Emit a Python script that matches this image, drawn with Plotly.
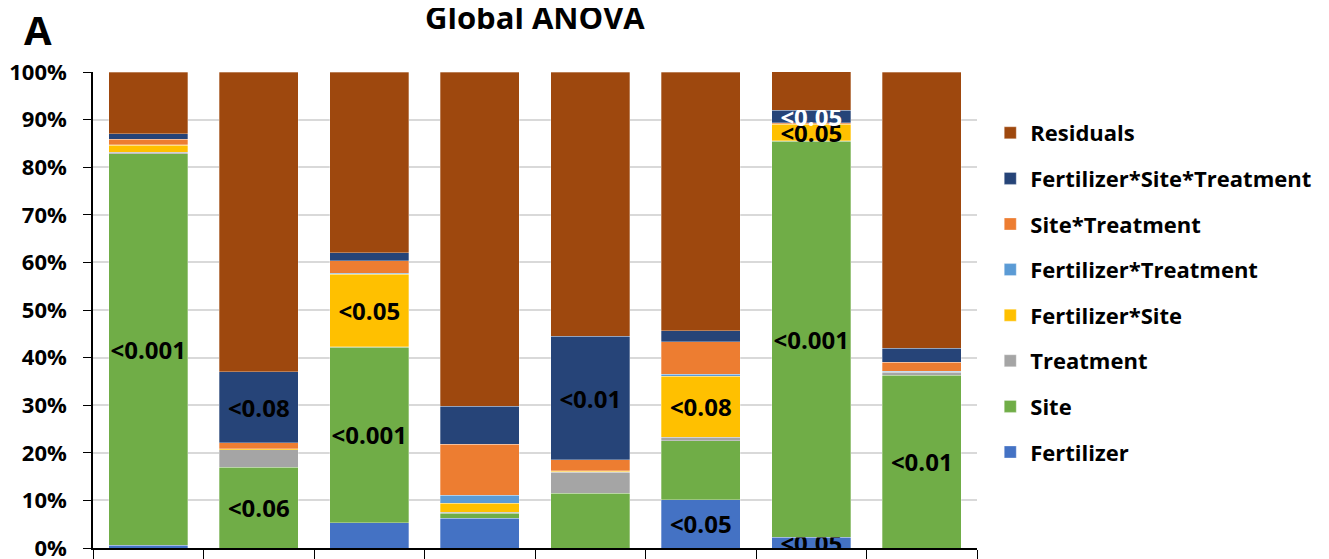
import plotly.graph_objects as go

# categories (x labels are not visible in the figure)
groups = ["G1", "G2", "G3", "G4", "G5", "G6", "G7", "G8"]

# share of variance (%) per term
fertilizer = [0.6, 0.0, 5.3, 6.3, 0.0, 10.1, 2.3, 0.0]
site = [82.2, 17.0, 36.9, 1.0, 11.5, 12.4, 83.2, 36.3]
treatment = [0.3, 3.6, 0.1, 0.2, 4.4, 0.8, 0.1, 0.6]
fert_site = [1.5, 0.2, 15.2, 1.9, 0.2, 12.8, 3.4, 0.1]
fert_treat = [0.1, 0.1, 0.2, 1.7, 0.1, 0.4, 0.1, 0.1]
site_treat = [1.2, 1.2, 2.6, 10.7, 2.3, 6.8, 0.2, 1.9]
fert_site_treat = [1.1, 14.9, 1.7, 8.0, 26.0, 2.3, 2.7, 3.0]
residuals = [13.0, 63.0, 38.0, 70.2, 55.5, 54.4, 8.4, 58.0]

# p-value labels
fertilizer_lbl = ["", "", "", "", "", "<0.05", "<0.05", ""]
site_lbl = ["<0.001", "<0.06", "<0.001", "", "", "", "<0.001", "<0.01"]
fert_site_lbl = ["", "", "<0.05", "", "", "<0.08", "<0.05", ""]
fst_lbl = ["", "<0.08", "", "", "<0.01", "", "<0.05", ""]

series = [
    ("Fertilizer", fertilizer, "#4472C4", fertilizer_lbl, "black"),
    ("Site", site, "#70AD47", site_lbl, "black"),
    ("Treatment", treatment, "#A5A5A5", None, "black"),
    ("Fertilizer*Site", fert_site, "#FFC000", fert_site_lbl, "black"),
    ("Fertilizer*Treatment", fert_treat, "#5B9BD5", None, "black"),
    ("Site*Treatment", site_treat, "#ED7D31", None, "black"),
    ("Fertilizer*Site*Treatment", fert_site_treat, "#264478", fst_lbl,
     ["black", "black", "black", "black", "black", "black", "white", "black"]),
    ("Residuals", residuals, "#9E480E", None, "black"),
]

FONT = "Open Sans"

fig = go.Figure()
for i, (name, vals, color, lbl, tcolor) in enumerate(series):
    fig.add_trace(go.Bar(
        x=groups,
        y=[v / 100 for v in vals],
        name=name,
        legendgroup=name,
        legendrank=100 - i,  # Residuals on top, like the Excel legend
        marker=dict(color=color, line=dict(color="rgba(255,255,255,0.5)", width=0.6)),
        text=lbl,
        textposition="inside" if lbl else "none",
        insidetextanchor="middle",
        textangle=0,
        textfont=dict(family=FONT, size=24, color=tcolor, weight="bold"),
        width=0.715,
        hoverinfo="name+y",
    ))

# the page body has an 8px margin, so the figure is a bit smaller than the window
fig.update_layout(
    barmode="stack",
    width=1321,
    height=551,
    margin=dict(l=85, r=352, t=64, b=11),
    plot_bgcolor="white",
    paper_bgcolor="white",
    font=dict(family=FONT, size=22, color="black"),
    uniformtext=dict(minsize=24, mode="show"),
    legend=dict(
        x=1.015, y=0.916, xanchor="left", yanchor="top",
        traceorder="grouped",
        tracegroupgap=14,
        font=dict(family=FONT, size=22, color="black", weight="bold"),
        itemwidth=30,
    ),
    xaxis=dict(
        showticklabels=False,
        tickson="boundaries",
        ticks="outside",
        ticklen=12,
        tickcolor="black",
        showline=True,
        linecolor="black",
        linewidth=1.5,
        showgrid=False,
        automargin=False,
    ),
    yaxis=dict(
        range=[0, 1],
        tickvals=[i / 10 for i in range(11)],
        tickformat=".0%",
        ticks="outside",
        ticklen=8,
        tickcolor="black",
        tickfont=dict(family=FONT, size=22, color="black", weight="bold"),
        ticklabelstandoff=12,
        ticklabeloverflow="allow",
        showline=True,
        linecolor="black",
        linewidth=1.5,
        showgrid=True,
        gridcolor="#D9D9D9",
        gridwidth=1.5,
        zeroline=False,
        automargin=False,
    ),
)

fig.add_annotation(
    text="Global ANOVA", xref="paper", yref="paper", x=0.5, y=1.115,
    xanchor="center", yanchor="middle",
    showarrow=False, font=dict(family=FONT, size=31, color="black", weight="bold"),
)
fig.add_annotation(
    text="A", xref="paper", yref="paper", x=-0.062, y=1.09,
    xanchor="center", yanchor="middle",
    showarrow=False, font=dict(family=FONT, size=40, color="black", weight="bold"),
)

fig.write_html("out.html")
